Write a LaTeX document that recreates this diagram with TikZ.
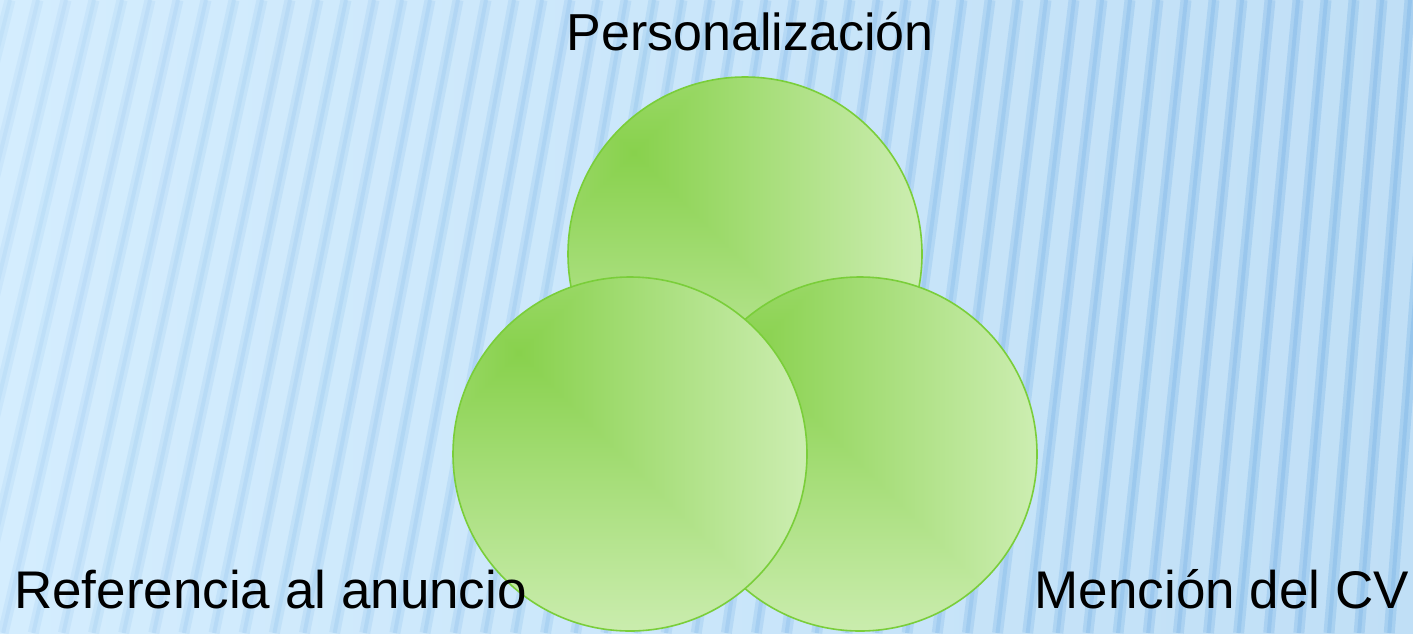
\documentclass[tikz,border=0pt]{standalone}
\usepackage{fontspec}
\setmainfont{Liberation Sans}
\definecolor{bgL}{RGB}{212,237,254}
\definecolor{bgR}{RGB}{192,223,246}
\definecolor{stripeblue}{RGB}{110,172,228}
\definecolor{ballline}{RGB}{122,206,58}
\pgfdeclarefunctionalshading{ballgreen}{\pgfpoint{0bp}{0bp}}{\pgfpoint{100bp}{100bp}}{}{
  64.3 exch sub abs exch 34.3 sub abs 2 copy lt {exch} if pop 40 div dup 1 gt {pop 1} if
  dup 0.265 mul 0.533 add exch dup 0.110 mul 0.820 add exch 0.390 mul 0.300 add
}
\tikzset{
  ball/.style={circle, draw=ballline, line width=1.6pt, minimum size=354pt, inner sep=0pt, shading=ballgreen},
  lbl/.style={inner sep=0pt, font=\fontsize{53}{60}\selectfont, text=black},
  stripesoft/.style={line width=11pt, color=stripeblue},
  stripecore/.style={line width=4pt, color=stripeblue},
}
\begin{document}
\begin{tikzpicture}[x=1pt,y=-1pt]
\useasboundingbox (0,0) rectangle (1413,633);
\begin{scope}
\clip (0,0) rectangle (1413,633);
\shade[left color=bgL, right color=bgR] (0,0) rectangle (1413,633);
\foreach \i in {0,...,54}{
  \pgfmathsetmacro\xt{\i*28+10}
  \pgfmathsetmacro\s{0.25-0.17*\xt/1413}
  \pgfmathsetmacro\op{0.09+0.2*\xt/1413}
  \draw[stripesoft, opacity=\op] (\xt,0) -- ({\xt-\s*633},633);
  \draw[stripecore, opacity=\op] (\xt,0) -- ({\xt-\s*633},633);
}
\end{scope}
\node[ball] (pers) at (745,254) {};
\node[ball] (menc) at (860,454) {};
\node[ball] (ref) at (630,454) {};
\node[lbl, anchor=base, font=\fontsize{52}{60}\selectfont] (tpers) at (750,50) {Personalización};
\node[lbl, anchor=base west] (tref) at (14,608) {Referencia al anuncio};
\node[lbl, anchor=base east] (tmenc) at (1409,608) {Mención del CV};
\end{tikzpicture}
\end{document}
